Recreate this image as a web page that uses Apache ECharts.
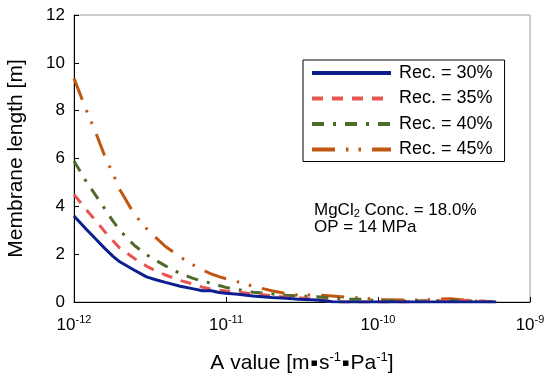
<!DOCTYPE html>
<html>
<head>
<meta charset="utf-8">
<script src="https://cdn.jsdelivr.net/npm/echarts@6/dist/echarts.min.js"></script>
<style>
html,body{margin:0;padding:0;background:#fff;}
#chart{width:547px;height:373px;}
</style>
</head>
<body>
<div id="chart"></div>
<script>
// A values [m s^-1 Pa^-1]
const aValues = [1e-12, 1.2e-12, 1.4e-12, 1.6e-12, 1.8e-12, 2e-12, 2.5e-12, 3e-12, 3.5e-12, 4e-12,
  5e-12, 6e-12, 7e-12, 8e-12, 9e-12, 1e-11, 1.2e-11, 1.5e-11, 2e-11, 2.5e-11,
  3e-11, 4e-11, 5e-11, 6e-11, 8e-11, 1e-10, 1.5e-10, 2e-10, 3e-10, 4e-10, 5e-10, 6e-10];
// Membrane length [m]
const rec30 = [3.60, 3.05, 2.61, 2.23, 1.92, 1.68, 1.33, 1.05, 0.92, 0.82,
  0.66, 0.56, 0.47, 0.47, 0.40, 0.37, 0.32, 0.25, 0.19, 0.16,
  0.12, 0.08, 0.01, 0, 0, 0, 0, 0, 0, 0, 0, 0];
const rec35 = [4.50, 3.87, 3.38, 2.93, 2.57, 2.25, 1.82, 1.50, 1.28, 1.13,
  0.90, 0.76, 0.62, 0.54, 0.49, 0.46, 0.41, 0.34, 0.26, 0.20,
  0.18, 0.10, 0.02, 0, 0, 0, 0, 0.02, 0.06, 0.07, 0.03, 0];
const rec40 = [5.90, 5.05, 4.43, 3.88, 3.39, 3.00, 2.36, 1.98, 1.72, 1.51,
  1.19, 1.00, 0.87, 0.79, 0.69, 0.61, 0.52, 0.41, 0.34, 0.28,
  0.25, 0.22, 0.16, 0.12, 0.11, 0.06, 0.04, 0.05, 0.06, 0.04, 0.03, 0.01];
const rec45 = [9.35, 8.05, 7.03, 6.07, 5.38, 4.70, 3.66, 3.07, 2.66, 2.32,
  1.88, 1.57, 1.35, 1.17, 1.06, 0.97, 0.84, 0.66, 0.47, 0.35,
  0.29, 0.29, 0.25, 0.21, 0.16, 0.10, 0.08, 0.09, 0.14, 0.06, 0.01, 0];
const seriesNames = ['Rec. = 30%', 'Rec. = 35%', 'Rec. = 40%', 'Rec. = 45%'];
const seriesValues = [rec30, rec35, rec40, rec45];
const yTicks = [0, 2, 4, 6, 8, 10, 12];

const colors = ['#0b1f8f', '#e8544f', '#4e6b2a', '#c0560f'];
const dashes = ['solid', [11, 9], [12, 9, 3, 9], [23, 11, 2.5, 10, 2.5, 11]];
const FONT = '"Liberation Sans", Arial, sans-serif';

const chart = echarts.init(document.getElementById('chart'), null, {renderer: 'canvas'});

const series = seriesNames.map((name, i) => ({
  name: name,
  type: 'line',
  data: aValues.map((a, j) => [a, seriesValues[i][j]]),
  showSymbol: false,
  symbol: 'none',
  smooth: false,
  lineStyle: {color: colors[i], width: 3, type: dashes[i]},
  itemStyle: {color: colors[i]},
  z: 10 - i
}));

chart.setOption({
  animation: false,
  backgroundColor: '#fff',
  textStyle: {fontFamily: FONT, color: '#000'},
  grid: {left: 74, right: 17, top: 15, bottom: 71, show: true, borderColor: '#9a9a9a', borderWidth: 1,
    containLabel: false, outerBoundsMode: 'none'},
  xAxis: {
    type: 'log',
    logBase: 10,
    min: 1e-12,
    max: 1e-9,
    name: '{t|A value [m}{d|▪}{t|s}{u|-1}{d|▪}{t|Pa}{u|-1}{t|]}',
    nameLocation: 'middle',
    nameGap: 49,
    nameTextStyle: {
      rich: {
        t: {fontSize: 21, fontFamily: FONT, color: '#000', lineHeight: 24},
        d: {fontSize: 11, fontFamily: '"DejaVu Sans", sans-serif', color: '#000', lineHeight: 24, padding: [0, 1, 0, 1]},
        u: {fontSize: 13, fontFamily: FONT, color: '#000', lineHeight: 24, verticalAlign: 'top', padding: [0, 0, 10, 0]}
      }
    },
    axisLine: {show: true, lineStyle: {color: '#000', width: 1}},
    axisTick: {show: true, inside: true, length: 5, lineStyle: {color: '#000'}},
    minorTick: {show: false},
    splitLine: {show: false},
    axisLabel: {
      margin: 12,
      formatter: function (v) {
        const e = Math.round(Math.log10(v));
        return '{b|10}{s|' + e + '}';
      },
      rich: {
        b: {fontSize: 17, fontFamily: FONT, color: '#000', lineHeight: 22},
        s: {fontSize: 11, fontFamily: FONT, color: '#000', lineHeight: 22, verticalAlign: 'top', padding: [0, 0, 8, 0]}
      }
    }
  },
  yAxis: {
    type: 'value',
    min: 0,
    max: 12,
    interval: 2,
    name: 'Membrane length [m]',
    nameLocation: 'middle',
    nameGap: 47,
    nameTextStyle: {fontSize: 21, fontFamily: FONT, color: '#000'},
    axisLine: {show: true, lineStyle: {color: '#000', width: 1}},
    axisTick: {show: true, inside: true, length: 5, lineStyle: {color: '#000'}},
    splitLine: {show: false},
    axisLabel: {
      fontSize: 17, color: '#000', margin: 9,
      formatter: function (v) { return yTicks.indexOf(v) >= 0 ? String(v) : ''; }
    }
  },
  legend: {
    show: true,
    orient: 'vertical',
    left: 303,
    top: 60,
    padding: [3, 12, 2, 7],
    itemGap: 5.5,
    itemWidth: 79,
    itemHeight: 14,
    borderColor: '#000',
    borderWidth: 1,
    backgroundColor: '#fff',
    itemStyle: {opacity: 0},
    lineStyle: {width: 4},
    textStyle: {fontSize: 18, fontFamily: FONT, color: '#000', lineHeight: 20, padding: [0, 0, 0, 3]},
    data: seriesNames
  },
  graphic: [{
    type: 'text',
    left: 314,
    top: 202,
    style: {
      text: '{a|MgCl}{sub|2}{a| Conc. = 18.0%}\n{a|OP = 14 MPa}',
      rich: {
        a: {fontSize: 17, fontFamily: FONT, fill: '#000', lineHeight: 17},
        sub: {fontSize: 11, fontFamily: FONT, fill: '#000', lineHeight: 17, verticalAlign: 'bottom', padding: [6, 0, 0, 0]}
      }
    }
  }],
  series: series
});
</script>
</body>
</html>
